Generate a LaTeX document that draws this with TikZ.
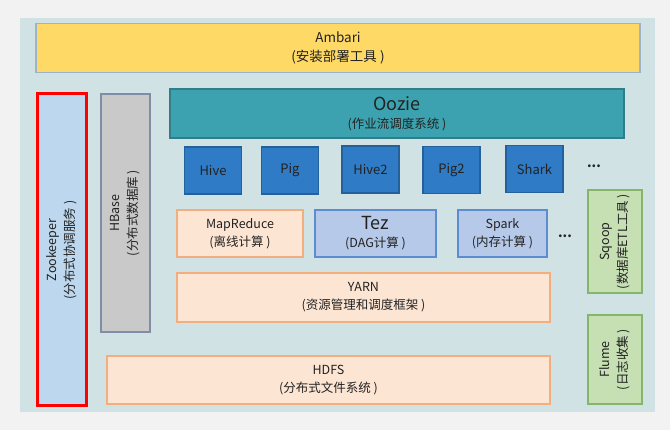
\documentclass[tikz,border=0pt]{standalone}
\usepackage{fontspec}
\setmainfont{Noto Sans CJK SC}
\definecolor{pagebg}{HTML}{F2F2F2}
\definecolor{panel}{HTML}{D0E2E4}
\definecolor{txt}{HTML}{222222}
\definecolor{ambfill}{HTML}{FFD966}
\definecolor{ambline}{HTML}{9DB3C8}
\definecolor{oozfill}{HTML}{3DA2AF}
\definecolor{oozline}{HTML}{2F7E8A}
\definecolor{toolfill}{HTML}{2F7BC5}
\definecolor{toolline}{HTML}{23609C}
\definecolor{peach}{HTML}{FDE5D3}
\definecolor{peachline}{HTML}{F2AE7E}
\definecolor{lblue}{HTML}{B6C9E8}
\definecolor{lblueline}{HTML}{5E8CD3}
\definecolor{green}{HTML}{C6E0B4}
\definecolor{greenline}{HTML}{86B56A}
\definecolor{zkfill}{HTML}{BDD7EE}
\definecolor{hbfill}{HTML}{C9C9C9}
\definecolor{hbline}{HTML}{7F8EA6}
\begin{document}
\begin{tikzpicture}[x=1pt, y=-1pt,
  box/.style={draw, line width=1.2pt, align=center, inner sep=0pt,
    text=txt, font=\fontsize{12.5}{18}\selectfont},
  peachbox/.style={box, fill=peach, draw=peachline},
  lbluebox/.style={box, fill=lblue, draw=lblueline},
  toolbox/.style={box, fill=toolfill, draw=toolline,
    minimum width=57pt, minimum height=47pt, font=\fontsize{13}{15}\selectfont},
  greenbox/.style={box, fill=green, draw=greenline, rotate=90, minimum height=54pt},
  dots/.style={text=txt, font=\fontsize{13}{14}\selectfont\bfseries}]
  \useasboundingbox[fill=pagebg] (0,0) rectangle (670,430);
  \fill[panel] (20,18) rectangle (655,412);

  % top and side blocks
  \node[box, fill=ambfill, draw=ambline, minimum width=604pt, minimum height=49pt,
    font=\fontsize{13.5}{19}\selectfont] (ambari) at (338,48)
    {Ambari\\(安装部署工具 )};
  \node[box, fill=zkfill, draw=red, line width=3pt, rotate=90,
    minimum width=312pt, minimum height=49pt] (zookeeper) at (62,250)
    {Zookeeper\\(分布式协调服务 )};
  \node[box, fill=hbfill, draw=hbline, rotate=90,
    minimum width=238pt, minimum height=49pt] (hbase) at (125.5,213)
    {HBase\\(分布式数据库 )};
  \node[box, fill=oozfill, draw=oozline, minimum width=454pt, minimum height=49pt]
    (oozie) at (397,113.5) {{\fontsize{18}{19}\selectfont Oozie}\\(作业流调度系统 )};

  % tools
  \node[toolbox] (hive)  at (213,170.5) {Hive};
  \node[toolbox] (pig)   at (290,170.5) {Pig};
  \node[toolbox] (hive2) at (370.5,169.5) {Hive2};
  \node[toolbox] (pig2)  at (451.5,170) {Pig2};
  \node[toolbox] (shark) at (534.5,169) {Shark};
  \node[dots] (dotsa) at (594,166) {...};

  % computing frameworks
  \node[peachbox, minimum width=126pt, minimum height=47pt] (mapreduce) at (240,233.5)
    {MapReduce\\(离线计算 )};
  \node[lbluebox, minimum width=121pt, minimum height=47pt] (tez) at (375.5,233.5)
    {{\fontsize{18}{19}\selectfont Tez}\\(DAG计算 )};
  \node[lbluebox, minimum width=89pt, minimum height=47pt] (spark) at (502.5,233.5)
    {Spark\\(内存计算 )};
  \node[dots] (dotsb) at (565,236) {...};

  \node[peachbox, minimum width=373pt, minimum height=49pt] (yarn) at (363.5,297.5)
    {YARN\\(资源管理和调度框架 )};
  \node[peachbox, minimum width=443pt, minimum height=48pt] (hdfs) at (328.5,380)
    {HDFS\\(分布式文件系统 )};

  % data tools
  \node[greenbox, minimum width=103pt] (sqoop) at (615,241.5)
    {Sqoop\\(数据库ETL工具 )};
  \node[greenbox, minimum width=89pt] (flume) at (615,359.5)
    {Flume\\(日志收集 )};
\end{tikzpicture}
\end{document}
